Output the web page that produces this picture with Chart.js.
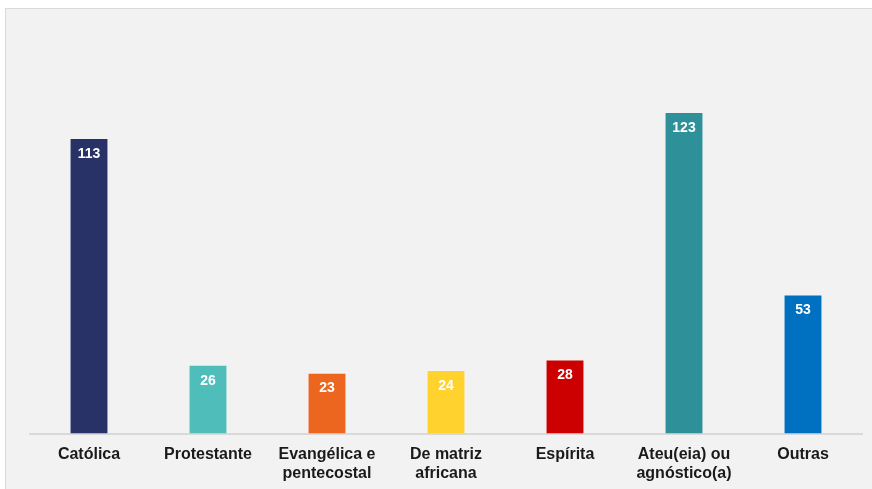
<!DOCTYPE html>
<html>
<head>
<meta charset="utf-8">
<script src="https://cdn.jsdelivr.net/npm/chart.js@4/dist/chart.umd.min.js"></script>
<style>
  html, body { margin: 0; padding: 0; background: #ffffff; overflow: hidden; }
  #panel { position: absolute; left: 5px; top: 8px; width: 880px; height: 500px;
           background: #f2f2f2; border: 1px solid #d9d9d9; box-sizing: border-box; }
  #wrap { position: absolute; left: 0; top: 0; width: 872px; height: 501px; }
</style>
</head>
<body>
<div id="panel"></div>
<div id="wrap"><canvas id="c"></canvas></div>
<script>
const categories = ['Católica', 'Protestante', ['Evangélica e', 'pentecostal'], ['De matriz', 'africana'], 'Espírita', ['Ateu(eia) ou', 'agnóstico(a)'], 'Outras'];
const values = [113, 26, 23, 24, 28, 123, 53];
const barColors = ['#283266', '#4fbdba', '#ec661f', '#ffd22e', '#cc0000', '#2e9098', '#0070c0'];

const valueLabels = {
  id: 'valueLabels',
  afterDatasetsDraw(chart) {
    const ctx = chart.ctx;
    const meta = chart.getDatasetMeta(0);
    ctx.save();
    ctx.fillStyle = '#ffffff';
    ctx.font = 'bold 14px "Liberation Sans", Arial, sans-serif';
    ctx.textAlign = 'center';
    ctx.textBaseline = 'middle';
    meta.data.forEach((bar, i) => {
      ctx.fillText(String(chart.data.datasets[0].data[i]), bar.x, bar.y + 15);
    });
    ctx.restore();
  }
};

new Chart(document.getElementById('c'), {
  type: 'bar',
  data: {
    labels: categories,
    datasets: [{
      data: values,
      backgroundColor: barColors,
      borderWidth: 0,
      categoryPercentage: 1,
      barPercentage: 0.31
    }]
  },
  options: {
    responsive: true,
    maintainAspectRatio: false,
    animation: false,
    devicePixelRatio: 1,
    layout: { padding: { left: 29.5, right: 9.5, top: 42.5, bottom: 7 } },
    plugins: { legend: { display: false }, tooltip: { enabled: false } },
    scales: {
      x: {
        grid: { display: false, drawTicks: false },
        border: { display: true, color: '#d9d9d9', width: 2 },
        ticks: {
          color: '#1a1a1a',
          padding: 11,
          maxRotation: 0,
          autoSkip: false,
          font: { family: '"Liberation Sans", Arial, sans-serif', size: 16, weight: 'bold', lineHeight: 1.2 }
        }
      },
      y: {
        display: false,
        min: 0,
        max: 150
      }
    }
  },
  plugins: [valueLabels]
});
</script>
</body>
</html>
